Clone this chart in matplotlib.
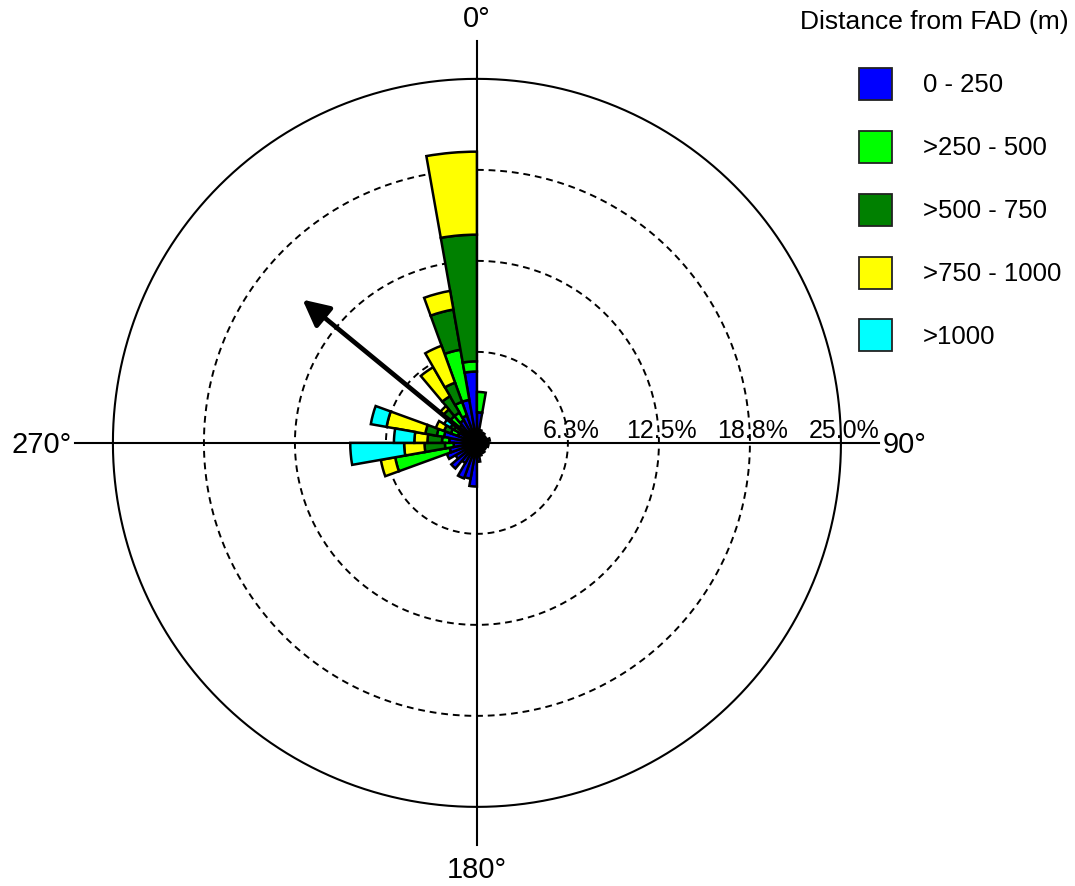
import numpy as np
import matplotlib
matplotlib.use("Agg")
import matplotlib.pyplot as plt
from matplotlib.patches import Patch

plt.rcParams['font.family'] = ['Liberation Sans', 'DejaVu Sans']

# bin centres (compass degrees, 10 degree bins)
directions = [5, 15, 25, 35, 45, 55, 65, 75, 85, 95, 105, 115, 125, 135, 145, 155, 165, 175,
              185, 195, 205, 215, 225, 235, 245, 255, 265, 275, 285, 295, 305, 315, 325, 335, 345, 355]

# percentage of observations per class
pct_0_250 = [2.1, 0.9, 0.7, 0.8, 0.5, 0.7, 0.6, 0.9, 0.7, 0.6, 0.8, 0.5, 0.7, 0.6, 0.8, 0.6, 0.9, 1.3,
             3.0, 2.5, 2.6, 1.6, 2.3, 1.7, 2.2, 1.9, 1.6, 1.9, 2.3, 1.4, 1.3, 1.6, 1.8, 2.0, 3.0, 4.9]
pct_250_500 = [1.4, 0, 0, 0, 0, 0, 0, 0, 0, 0, 0, 0, 0, 0, 0, 0, 0, 0,
               0, 0, 0, 0, 0, 0, 0, 3.8, 0.6, 0.5, 0.5, 0.5, 0.5, 0.8, 0.6, 1.0, 3.5, 0.7]
pct_500_750 = [0, 0, 0, 0, 0, 0, 0, 0, 0, 0, 0, 0, 0, 0, 0, 0, 0, 0,
               0, 0, 0, 0, 0, 0, 0, 0, 1.4, 1.0, 0.8, 0.5, 0.3, 0.6, 1.3, 1.4, 2.8, 8.7]
pct_750_1000 = [0, 0, 0, 0, 0, 0, 0, 0, 0, 0, 0, 0, 0, 0, 0, 0, 0, 0,
                0, 0, 0, 0, 0, 0, 0, 1.0, 1.4, 0.9, 2.7, 0.6, 0, 0.3, 2.3, 2.7, 1.3, 5.7]
pct_1000 = [0, 0, 0, 0, 0, 0, 0, 0, 0, 0, 0, 0, 0, 0, 0, 0, 0, 0,
            0, 0, 0, 0, 0, 0, 0, 0, 3.7, 1.4, 1.1, 0, 0.5, 0, 0, 0, 0, 0]

class_labels = ['0 - 250', '>250 - 500', '>500 - 750', '>750 - 1000', '>1000']
class_colors = ['#0000FF', '#00FF00', '#008000', '#FFFF00', '#00FFFF']

ring_values = [6.25, 12.5, 18.75, 25.0]
ring_labels = ['6.3%', '12.5%', '18.8%', '25.0%']
angle_labels = ['0°', '90°', '180°', '270°']

mean_direction = 309.4
mean_length = 15.5

fig = plt.figure(figsize=(10.75, 8.86), dpi=100)
ax = fig.add_axes([0.0644, 0.04, 0.7585, 0.9203], projection='polar')
ax.set_theta_zero_location('N')
ax.set_theta_direction(-1)
ax.set_ylim(0, 28)
ax.grid(False)
ax.set_xticks([])
ax.set_yticks([])
ax.spines['polar'].set_visible(False)
ax.patch.set_alpha(0)

# rings
th = np.linspace(0, 2 * np.pi, 721)
for rv in ring_values[:-1]:
    ax.plot(th, np.full_like(th, rv), color='black', lw=1.4, ls=(0, (3.5, 2.5)), zorder=1)
ax.plot(th, np.full_like(th, ring_values[-1]), color='black', lw=1.5, zorder=1)

# axis lines
for a in [0, 90, 180, 270]:
    ax.plot([np.deg2rad(a), np.deg2rad(a)], [0, 27.6], color='black', lw=1.5, zorder=1)

# stacked bars
theta = np.deg2rad(directions)
width = np.deg2rad(10)
bottom = np.zeros(len(directions))
for vals, col in zip([pct_0_250, pct_250_500, pct_500_750, pct_750_1000, pct_1000], class_colors):
    v = np.array(vals, dtype=float)
    m = v > 0
    ax.bar(theta[m], v[m], width=width, bottom=bottom[m], color=col,
           edgecolor='black', linewidth=1.8, align='center', zorder=3)
    bottom = bottom + v

# mean direction arrow
ax.annotate('', xy=(np.deg2rad(mean_direction), mean_length), xytext=(0, 0),
            arrowprops=dict(arrowstyle='-|>', color='black', lw=3.4, mutation_scale=40,
                            shrinkA=0, shrinkB=0), zorder=5)

# radial labels
for rv, lab in zip(ring_values, ring_labels):
    ax.annotate(lab, xy=(np.pi / 2, rv), xytext=(3, 5), textcoords='offset pixels',
                ha='center', va='baseline', fontsize=18, annotation_clip=False)

# angle labels
offsets = [(0, 60), (64, -2), (0, -63), (-71, -2)]
for a, lab, off in zip([0, 90, 180, 270], angle_labels, offsets):
    ax.annotate(lab, xy=(np.deg2rad(a), 25), xytext=off, textcoords='offset pixels',
                ha='center', va='center', fontsize=21, annotation_clip=False)

# legend
handles = [Patch(facecolor=c, edgecolor='#222222', linewidth=1.3) for c in class_colors]
fig.legend(handles=handles, labels=class_labels, loc='upper left',
           bbox_to_anchor=(859 / 1075, 1 - 68 / 886), frameon=False, fontsize=18.5,
           handlelength=1.28, handleheight=1.54, handletextpad=1.2, labelspacing=1.2,
           borderpad=0, borderaxespad=0)
fig.text(934.5 / 1075, 1 - 22 / 886, 'Distance from FAD (m)', ha='center', va='center',
         fontsize=19)

fig.savefig('out.png', dpi=100)
